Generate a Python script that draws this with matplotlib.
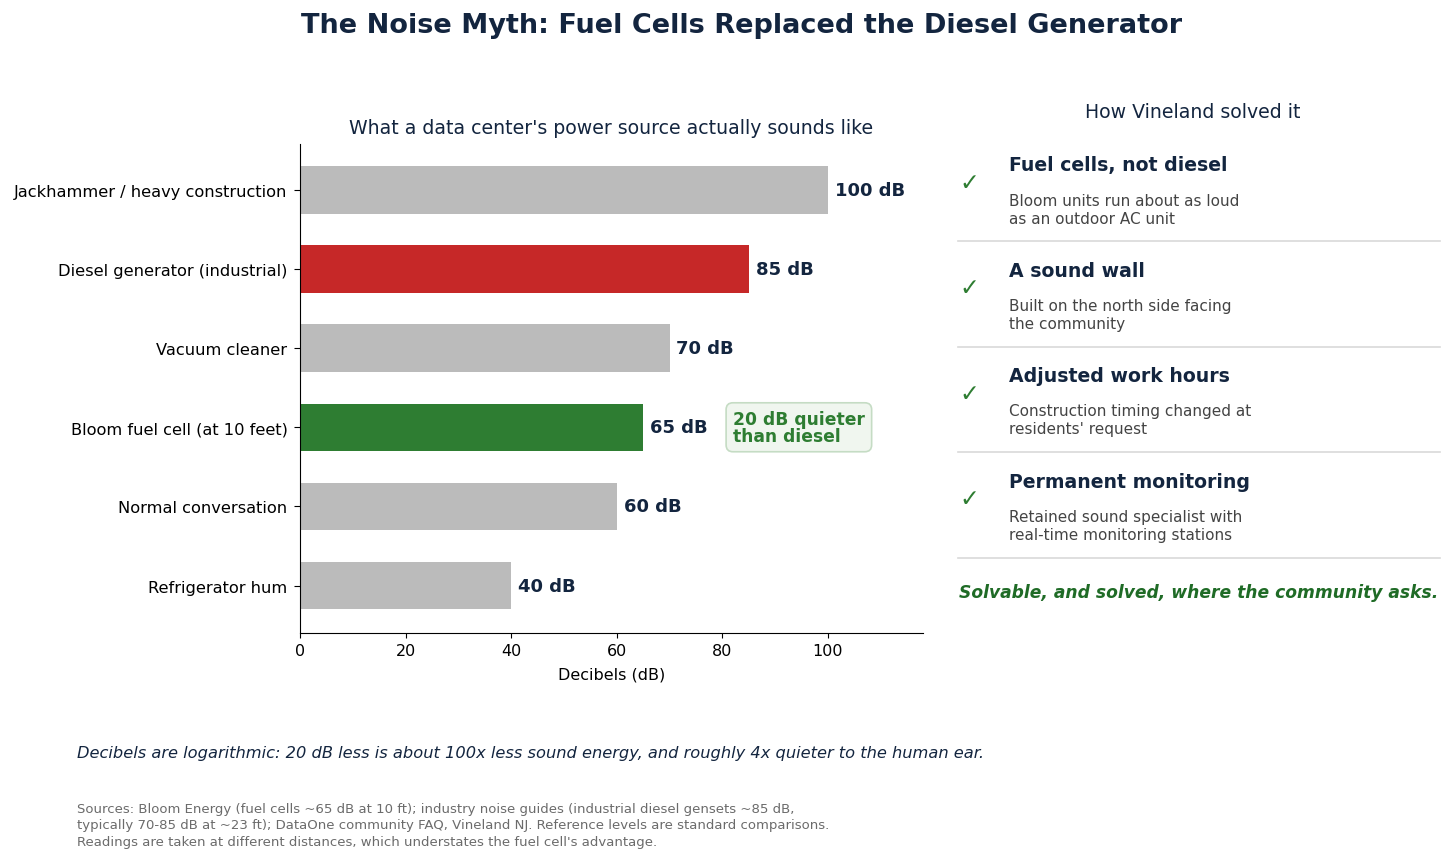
import numpy as np
import matplotlib.pyplot as plt

# chart data
sources = [
    "Jackhammer / heavy construction",
    "Diesel generator (industrial)",
    "Vacuum cleaner",
    "Bloom fuel cell (at 10 feet)",
    "Normal conversation",
    "Refrigerator hum",
]
decibels = [100, 85, 70, 65, 60, 40]
bar_colors = ["#bbbbbb", "#c62828", "#bbbbbb", "#2e7d32", "#bbbbbb", "#bbbbbb"]

steps = [
    "Fuel cells, not diesel",
    "A sound wall",
    "Adjusted work hours",
    "Permanent monitoring",
]
step_notes = [
    "Bloom units run about as loud\nas an outdoor AC unit",
    "Built on the north side facing\nthe community",
    "Construction timing changed at\nresidents' request",
    "Retained sound specialist with\nreal-time monitoring stations",
]

NAVY = "#13253f"
GREEN = "#2e7d32"
DARKGREEN = "#1f6b26"

W, H = 1456, 862
fig = plt.figure(figsize=(W / 100, H / 100), dpi=100)


def fx(px):
    return px / W


def fy(py):
    return 1 - py / H


fig.text(fx(742), fy(26), "The Noise Myth: Fuel Cells Replaced the Diesel Generator",
         ha="center", va="center", fontsize=19.5, fontweight="bold", color=NAVY)

ax = fig.add_axes([fx(300), fy(634), fx(923) - fx(300), fy(145) - fy(634)])
y = np.arange(len(sources))
ax.barh(y, decibels, height=0.6, color=bar_colors)
for yi, v in zip(y, decibels):
    ax.text(v + 1.3, yi, f"{v} dB", va="center", ha="left",
            fontsize=13, fontweight="bold", color=NAVY)
ax.set_yticks(y)
ax.set_yticklabels(sources, fontsize=11.7)
ax.set_ylim(5.6, -0.58)
ax.set_xlim(0, 118)
ax.set_xticks([0, 20, 40, 60, 80, 100])
ax.tick_params(axis="x", labelsize=11.5)
ax.tick_params(axis="y", length=4, pad=5)
ax.set_xlabel("Decibels (dB)", fontsize=11.5, labelpad=6)
ax.set_title("What a data center's power source actually sounds like",
             fontsize=13.6, color=NAVY, pad=8)
for s in ["top", "right"]:
    ax.spines[s].set_visible(False)

diff = decibels[1] - decibels[3]
ax.text(82, 3, f"{diff} dB quieter\nthan diesel", va="center", ha="left",
        fontsize=12.3, fontweight="bold", color=GREEN, linespacing=0.95,
        bbox=dict(boxstyle="round,pad=0.4", fc="#f0f6ef", ec="#c5dcc4", lw=1.2))

# right panel
fig.text(fx(1193), fy(113), "How Vineland solved it", ha="center", va="center",
         fontsize=13.6, color=NAVY)
row_h = 105.5
for i, (head, note) in enumerate(zip(steps, step_notes)):
    top = 166 + i * row_h
    fig.text(fx(969), fy(top + 17), "\u2713", ha="center", va="center",
             fontsize=17, color=GREEN)
    fig.text(fx(1009), fy(top), head, ha="left", va="center",
             fontsize=13.6, fontweight="bold", color=NAVY)
    fig.text(fx(1009), fy(top + 44), note, ha="left", va="center",
             fontsize=11, color="#444444", linespacing=1.25)
    fig.add_artist(plt.Line2D([fx(958), fx(1440)], [fy(top + 76), fy(top + 76)],
                              color="#d9d9d9", lw=1.2, transform=fig.transFigure))

fig.text(fx(959), fy(593), "Solvable, and solved, where the community asks.",
         ha="left", va="center", fontsize=12.35, fontweight="bold",
         fontstyle="italic", color=DARKGREEN)

fig.text(fx(77), fy(754),
         "Decibels are logarithmic: 20 dB less is about 100x less sound energy, "
         "and roughly 4x quieter to the human ear.",
         ha="left", va="center", fontsize=11.7, fontstyle="italic", color=NAVY)
fig.text(fx(77), fy(826),
         "Sources: Bloom Energy (fuel cells ~65 dB at 10 ft); industry noise guides "
         "(industrial diesel gensets ~85 dB,\n"
         "typically 70-85 dB at ~23 ft); DataOne community FAQ, Vineland NJ. "
         "Reference levels are standard comparisons.\n"
         "Readings are taken at different distances, which understates the fuel cell's advantage.",
         ha="left", va="center", fontsize=9.5, color="#6b6b6b", linespacing=1.38)

fig.savefig("out.png", dpi=100)
